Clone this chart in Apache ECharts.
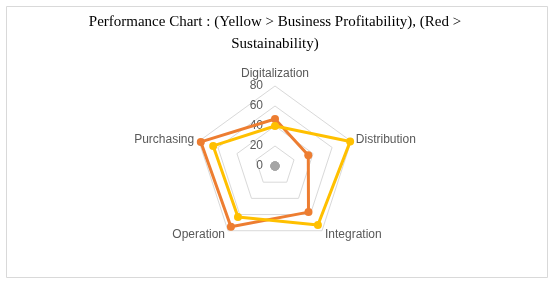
<!DOCTYPE html>
<html>
<head>
<meta charset="utf-8">
<script src="https://cdn.jsdelivr.net/npm/echarts@6/dist/echarts.min.js"></script>
<style>
html,body{margin:0;padding:0;background:#fff;}
#c{width:550px;height:281px;}
</style>
</head>
<body>
<div id="c"></div>
<script>
// Indicators in clockwise order as shown in the reference (top first)
const indicators = ['Digitalization', 'Distribution', 'Integration', 'Operation', 'Purchasing'];
const businessProfitability = [40, 79, 73, 63, 65];   // yellow
const sustainability = [47, 35, 57, 75, 78];          // orange
const baseline = [0, 0, 0, 0, 0];                      // grey
const axisMax = 80;
const axisTicks = [0, 20, 40, 60, 80];
const titleText = 'Performance Chart : (Yellow > Business Profitability), (Red >\nSustainability)';

// ECharts radar goes counter-clockwise; reorder to get clockwise layout
const order = [0, 4, 3, 2, 1];
const reorder = arr => order.map(i => arr[i]);

const chart = echarts.init(document.getElementById('c'), null, {renderer: 'canvas'});
const option = {
  animation: false,
  backgroundColor: '#fff',
  title: {
    text: titleText,
    left: 'center',
    top: 6,
    textStyle: {fontFamily: 'Liberation Serif', fontWeight: 'normal', fontSize: 15, color: '#000', lineHeight: 22}
  },
  graphic: [{
    type: 'rect', left: 4, top: 4, shape: {width: 541, height: 271},
    style: {fill: 'none', stroke: '#d9d9d9', lineWidth: 1}, silent: true
  }],
  radar: {
    center: [275, 166],
    radius: 80,
    startAngle: 90,
    min: 0,
    max: axisMax,
    splitNumber: axisTicks.length - 1,
    shape: 'polygon',
    axisName: {color: '#595959', fontFamily: 'Liberation Sans', fontSize: 12},
    nameGap: 5,
    splitLine: {lineStyle: {color: '#d9d9d9', width: 1}},
    splitArea: {show: false},
    axisLine: {show: false},
    axisTick: {show: false},
    axisLabel: {show: false},
    indicator: reorder(indicators).map((n, i) => {
      const o = {name: n, min: 0, max: axisMax};
      if (i === 0) {
        o.axisLabel = {show: true, color: '#595959', fontFamily: 'Liberation Sans', fontSize: 12, margin: 12, align: 'right'};
      }
      return o;
    })
  },
  series: [{
    type: 'radar',
    data: [
      {
        name: 'Baseline', value: reorder(baseline),
        symbol: 'circle', symbolSize: 9,
        lineStyle: {color: '#a5a5a5', width: 3},
        itemStyle: {color: '#a5a5a5'}
      },
      {
        name: 'Sustainability', value: reorder(sustainability),
        symbol: 'circle', symbolSize: 8,
        lineStyle: {color: '#ed7d31', width: 3},
        itemStyle: {color: '#ed7d31'}
      },
      {
        name: 'Business Profitability', value: reorder(businessProfitability),
        symbol: 'circle', symbolSize: 8,
        lineStyle: {color: '#ffc000', width: 3},
        itemStyle: {color: '#ffc000'}
      }
    ]
  }]
};
chart.setOption(option);
</script>
</body>
</html>
